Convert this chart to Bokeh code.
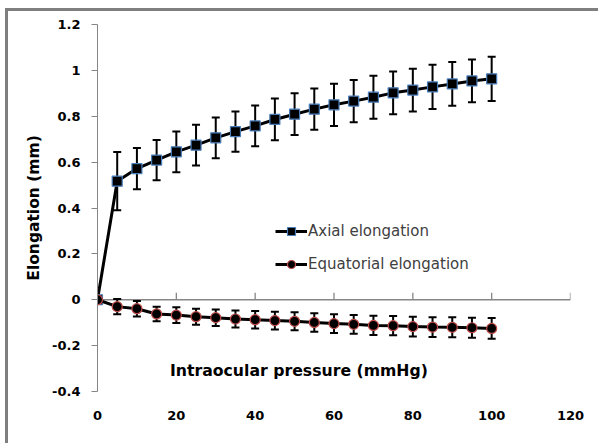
from bokeh.plotting import figure
from bokeh.models import (ColumnDataSource, Whisker, TeeHead, FixedTicker, Span,
                          Legend, LegendItem, Label, Range1d)
from bokeh.embed import file_html
from bokeh.resources import INLINE

# ---- data ----
pressure = [0, 5, 10, 15, 20, 25, 30, 35, 40, 45, 50, 55, 60, 65, 70, 75, 80, 85, 90, 95, 100]
axial = [0, 0.517, 0.572, 0.609, 0.645, 0.674, 0.706, 0.733, 0.758, 0.786, 0.809,
         0.831, 0.850, 0.866, 0.883, 0.902, 0.914, 0.928, 0.941, 0.954, 0.963]
axial_err = [0, 0.127, 0.090, 0.088, 0.089, 0.089, 0.089, 0.088, 0.089, 0.091, 0.091,
             0.090, 0.092, 0.092, 0.094, 0.093, 0.093, 0.096, 0.095, 0.093, 0.096]
equatorial = [0, -0.030, -0.039, -0.062, -0.067, -0.074, -0.078, -0.084, -0.087, -0.091, -0.094,
              -0.099, -0.104, -0.107, -0.112, -0.113, -0.117, -0.119, -0.120, -0.122, -0.125]
equatorial_err = [0, 0.033, 0.034, 0.032, 0.034, 0.035, 0.036, 0.037, 0.038, 0.039, 0.039,
                  0.040, 0.041, 0.041, 0.042, 0.042, 0.043, 0.043, 0.044, 0.044, 0.045]
series_names = ["Axial elongation", "Equatorial elongation"]
x_ticks = [0, 20, 40, 60, 80, 100, 120]
y_ticks = [-0.4, -0.2, 0, 0.2, 0.4, 0.6, 0.8, 1.0, 1.2]
y_tick_labels = ["-0.4", "-0.2", "0", "0.2", "0.4", "0.6", "0.8", "1", "1.2"]
x_title = "Intraocular pressure (mmHg)"
y_title = "Elongation (mm)"

FONT = "DejaVu Sans"
GRAY = "#868686"
FRAME_GRAY = "#7f7f7f"

src_a = ColumnDataSource(dict(x=pressure, y=axial,
                              lo=[v - e for v, e in zip(axial, axial_err)],
                              hi=[v + e for v, e in zip(axial, axial_err)]))
src_e = ColumnDataSource(dict(x=pressure, y=equatorial,
                              lo=[v - e for v, e in zip(equatorial, equatorial_err)],
                              hi=[v + e for v, e in zip(equatorial, equatorial_err)]))

p = figure(width=593, height=435, output_backend="svg", toolbar_location=None,
           x_range=Range1d(x_ticks[0], x_ticks[-1]), y_range=Range1d(y_ticks[0], y_ticks[-1]),
           min_border_left=89, min_border_right=31, min_border_top=13, min_border_bottom=55)
p.outline_line_color = None
p.xgrid.grid_line_color = None
p.ygrid.grid_line_color = None
# chart-area border: only its left and top edges fall inside the window
p.styles = {"margin-left": "5px", "margin-top": "8px",
            "border-left": "3px solid " + FRAME_GRAY,
            "border-top": "3px solid " + FRAME_GRAY}

# y axis
yax = p.yaxis[0]
yax.ticker = FixedTicker(ticks=y_ticks)
yax.major_label_overrides = {t: l for t, l in zip(y_ticks, y_tick_labels)}
yax.axis_line_color = GRAY
yax.major_tick_line_color = GRAY
yax.major_tick_in = 0
yax.major_tick_out = 6
yax.minor_tick_line_color = None
yax.major_label_standoff = 11
yax.major_label_text_font = FONT
yax.major_label_text_font_style = "bold"
yax.major_label_text_font_size = "13px"
yax.major_label_text_color = "black"
yax.axis_label = y_title
yax.axis_label_text_font = FONT
yax.axis_label_text_font_style = "bold"
yax.axis_label_text_font_size = "15.5px"
yax.axis_label_text_color = "black"
yax.axis_label_standoff = 6

# bottom labels only
xax = p.xaxis[0]
xax.ticker = FixedTicker(ticks=x_ticks)
xax.axis_line_color = None
xax.major_tick_line_color = None
xax.minor_tick_line_color = None
xax.major_tick_out = 0
xax.major_tick_in = 0
xax.major_label_standoff = 19
xax.major_label_text_font = FONT
xax.major_label_text_font_style = "bold"
xax.major_label_text_font_size = "13px"
xax.major_label_text_color = "black"

# horizontal axis line at y = 0 with upward tick marks
p.add_layout(Span(location=0, dimension="width", line_color=GRAY, line_width=1.3,
                  level="underlay"))
tick_len = 7 * (y_ticks[-1] - y_ticks[0]) / 367
p.segment(x0=x_ticks, y0=[0] * len(x_ticks), x1=x_ticks, y1=[tick_len] * len(x_ticks),
          line_color=GRAY, line_width=1.3, level="underlay")

# error bars
for src in (src_a, src_e):
    w = Whisker(source=src, base="x", upper="hi", lower="lo", dimension="height",
                line_color="black", line_width=2, level="underlay",
                upper_head=TeeHead(size=8, line_width=2, line_color="black"),
                lower_head=TeeHead(size=8, line_width=2, line_color="black"))
    p.add_layout(w)

la = p.line("x", "y", source=src_a, line_color="black", line_width=3)
sa = p.scatter("x", "y", source=src_a, marker="square", size=10,
               fill_color="black", line_color="#4A7EBB", line_width=1.2)
le = p.line("x", "y", source=src_e, line_color="black", line_width=3)
se = p.scatter("x", "y", source=src_e, marker="circle", size=10,
               fill_color="black", line_color="#BE4B48", line_width=1.2)

legend = Legend(items=[LegendItem(label=series_names[0], renderers=[la, sa]),
                       LegendItem(label=series_names[1], renderers=[le, se])],
                location=(178, 117), orientation="vertical",
                glyph_width=32, glyph_height=20, label_height=20, spacing=13,
                padding=0, margin=0, label_standoff=1,
                background_fill_alpha=0, border_line_color=None,
                label_text_font=FONT, label_text_font_size="15px",
                label_text_color="#404040")
p.add_layout(legend)

p.add_layout(Label(x=51.1, y=-0.310, text=x_title, text_align="center",
                   text_baseline="middle", text_font=FONT, text_font_style="bold",
                   text_font_size="15.7px", text_color="black"))

open("out.html", "w").write(file_html(p, INLINE))
